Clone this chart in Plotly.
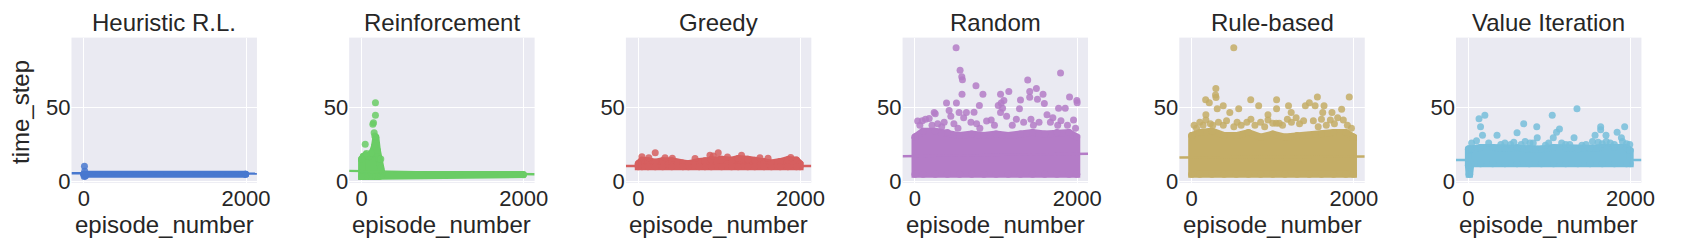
import plotly.graph_objects as go

# ---------------- data ----------------
titles = ["Heuristic R.L.", "Reinforcement", "Greedy", "Random", "Rule-based", "Value Iteration"]
colors = ["#4878CF", "#6ACC65", "#D65F5F", "#B47CC7", "#C4AD66", "#77BEDB"]
x_label = "episode_number"
y_label = "time_step"
x_ticks = [0, 2000]
y_ticks = [0, 50]

# dense band of overlapping points: episode positions, upper and lower envelope
hrl_band_x = [0, 1995]
hrl_band_top = [5, 5]
hrl_band_bottom = [5, 5]
hrl_pts_x = [7, 4, 10, 14, 18]
hrl_pts_y = [10.3, 3.5, 7, 4, 3.8]

rl_band_x = [0, 20, 50, 90, 130, 160, 176, 195, 215, 235, 255, 1995]
rl_band_top = [15, 17, 18, 17, 19, 24, 30, 21, 15, 9, 4.8, 4.8]
rl_band_bottom = [3.5, 3.5, 3.5, 3.5, 3.5, 3.5, 3.5, 3.5, 3.5, 4.0, 4.6, 4.6]
rl_pts_x = [171, 171, 147, 139, 155, 163, 45, 237, 120, 60]
rl_pts_y = [53.2, 44.7, 39.7, 38.7, 32.9, 30.8, 25.2, 15.2, 19.5, 19]

gr_band_x = [0, 45, 120, 209, 300, 413, 550, 618, 750, 822, 900, 1027, 1150, 1232,
             1350, 1436, 1550, 1641, 1750, 1845, 1950, 1995]
gr_band_top = [12, 14.4, 14, 13, 14, 14, 12.5, 12, 13.5, 14, 15, 15, 14.4, 15.5,
               15, 14.4, 13.5, 12.5, 13.5, 14.8, 14.5, 12]
gr_band_bottom = [10] * 22
gr_pts_x = [209, 986, 45, 884, 925, 1273, 130, 420, 1500, 1880, 700, 1100, 1600, 330]
gr_pts_y = [19.4, 19.4, 16.7, 17.7, 17.3, 17.7, 16, 15.8, 16, 16.2, 15.5, 16.5, 15.8, 16]

rn_band_x = [0, 100, 250, 400, 550, 700, 850, 1000, 1150, 1300, 1450, 1600, 1750, 1900, 1995]
rn_band_top = [30, 34, 34, 33, 31, 32, 31, 32, 31, 32, 33, 32, 33, 33, 30]
rn_band_bottom = [5] * 15
rn_pts_x = [507, 556, 577, 585, 752, 580, 838, 389, 511, 794, 1055, 1157, 1063, 1027,
            1080, 1055, 1390, 1415, 1497, 1415, 1579, 1510, 1595, 1301, 1288, 1795,
            1906, 1996, 2000, 1771, 1853, 728, 634, 544, 442, 237, 175, 421, 250, 1096,
            33, 60, 90, 130, 210, 280, 330, 360, 480, 530, 600, 690, 760, 800, 883,
            940, 980, 1130, 1200, 1250, 1340, 1430, 1460, 1530, 1628, 1670, 1700,
            1760, 1800, 1880, 1955, 1980]
rn_pts_y = [90.2, 75, 70.7, 68.6, 64.5, 58.8, 58.8, 53, 53, 51.3, 58.8, 60.7, 53, 51.3,
            49.4, 46.6, 68.4, 60.7, 62.8, 56.8, 58.8, 55.5, 52.6, 54.9, 49.1, 73.1,
            57, 54.7, 53.2, 49.4, 49.4, 46.8, 46.6, 46.6, 44, 46.6, 42.5, 47.9, 45.7, 54.7,
            40.8, 38, 41, 42, 38, 39, 37, 40, 39, 36, 43, 40, 39, 36, 40.8,
            41.5, 38, 44, 38, 42, 40, 42, 38, 40, 45, 40, 43,
            38, 41, 38, 41.5, 36]

rb_band_x = [0, 100, 250, 400, 550, 700, 850, 1000, 1150, 1300, 1450, 1600, 1750, 1900, 1995]
rb_band_top = [31, 33, 34, 31, 31, 33, 30, 32, 30, 31, 31, 32, 33, 33, 30]
rb_band_bottom = [5] * 15
rb_pts_x = [519, 298, 294, 300, 172, 217, 389, 315, 580, 470, 728, 826, 1047, 1047,
            1194, 1227, 1402, 1451, 1550, 1522, 1632, 1616, 1730, 1849, 1943, 175,
            941, 1288, 1710,
            30, 60, 100, 140, 175, 230, 260, 330, 390, 430, 520, 560, 610, 680, 730,
            780, 850, 900, 941, 1000, 1043, 1080, 1120, 1180, 1230, 1330, 1380, 1500,
            1560, 1600, 1660, 1760, 1800, 1870, 1920, 1970]
rb_pts_y = [90.2, 62.8, 58.3, 56.6, 55.1, 53.2, 51.1, 49.1, 49.1, 46.6, 55.1, 51.1, 55.1, 49.1,
            51.1, 46.6, 51.1, 53.2, 57, 51.1, 51.1, 46.6, 46.6, 48.7, 57, 45,
            45, 43, 41.5,
            38, 36, 40, 38, 41.5, 39, 38, 40, 38, 41, 37, 40, 38, 40, 42,
            38, 40, 37, 41.5, 39.3, 39.3, 39.3, 38, 42, 40, 39, 41, 41,
            37, 42, 38, 39, 43, 41.5, 38, 36]

vi_band_x = [0, 8, 16, 30, 150, 300, 450, 600, 750, 900, 1050, 1200, 1350, 1500, 1650,
             1800, 1950, 1995]
vi_band_top = [22, 21, 22, 22, 23, 23, 22.5, 23, 22.5, 22, 23, 22.5, 22, 22.5, 23, 23, 23, 21]
vi_band_bottom = [11, 5, 5, 12, 12, 12, 12, 12, 12, 12, 12, 12, 12, 12, 12, 12, 12, 12]
vi_pts_x = [1339, 131, 203, 1034, 150, 682, 843, 1631, 1631, 1927, 1123, 1087, 600, 174,
            353, 1047, 849, 1303, 1562, 1697, 1834, 1887,
            40, 100, 250, 400, 450, 520, 560, 650, 700, 760, 800, 950, 990, 1150, 1200,
            1250, 1400, 1450, 1530, 1600, 1650, 1700, 1750, 1800, 1900, 1950, 1990]
vi_pts_y = [49.1, 42.3, 44.7, 44.7, 37, 38.9, 37, 37, 35, 37, 35.5, 33.3, 32.9, 31.2,
            31.2, 29.5, 29.5, 29.5, 31.2, 31.2, 33.3, 29.5,
            26, 27.5, 26, 25, 26, 25, 26.5, 25, 27, 26, 26, 24.5, 26, 26, 25,
            25, 24.5, 25, 27, 26.5, 25.5, 27, 26, 25, 27, 25.5, 25]

# fitted regression line value at episode 0 and at episode 2000
fit_at_0 = [5.6, 7.05, 10.5, 17.2, 16.25, 14.6]
fit_at_2000 = [5.4, 5.04, 10.5, 18.7, 16.9, 14.6]

bands = [
    (hrl_band_x, hrl_band_top, hrl_band_bottom, hrl_pts_x, hrl_pts_y),
    (rl_band_x, rl_band_top, rl_band_bottom, rl_pts_x, rl_pts_y),
    (gr_band_x, gr_band_top, gr_band_bottom, gr_pts_x, gr_pts_y),
    (rn_band_x, rn_band_top, rn_band_bottom, rn_pts_x, rn_pts_y),
    (rb_band_x, rb_band_top, rb_band_bottom, rb_pts_x, rb_pts_y),
    (vi_band_x, vi_band_top, vi_band_bottom, vi_pts_x, vi_pts_y),
]

# ---------------- layout geometry ----------------
W, H = 1701, 245
FONT = "Liberation Sans, Arial, sans-serif"
TXT = "#262626"
BG = "#EAEAF2"
panel_left = [64, 344, 623, 902, 1181, 1460]
panel_w = 187
plot_top, plot_bot = 31, 183
x_range = [-153, 2134]
y_range = [-0.8, 97]
MS = 7

fig = go.Figure()
annotations = []
layout = {}
ydom = [1 - plot_bot / H, 1 - plot_top / H]

for i in range(6):
    k = "" if i == 0 else str(i + 1)
    bx, bt, bb, px, py = bands[i]
    c = colors[i]
    xa, ya = "x" + k, "y" + k
    # dense band
    poly_x = list(bx) + list(bx)[::-1] + [bx[0]]
    poly_y = list(bt) + list(bb)[::-1] + [bt[0]]
    fig.add_trace(go.Scatter(x=poly_x, y=poly_y, mode="lines+markers", fill="toself",
                             fillcolor=c, line=dict(color=c, width=MS),
                             marker=dict(size=MS, color=c, line=dict(width=0)),
                             xaxis=xa, yaxis=ya, hoverinfo="skip"))
    # individual points
    fig.add_trace(go.Scatter(x=px, y=py, mode="markers",
                             marker=dict(size=MS, color=c, opacity=0.85, line=dict(width=0)),
                             xaxis=xa, yaxis=ya))
    # regression line across the full axis range
    slope = (fit_at_2000[i] - fit_at_0[i]) / 2000.0
    lx = x_range
    ly = [fit_at_0[i] + slope * v for v in lx]
    fig.add_trace(go.Scatter(x=lx, y=ly, mode="lines", line=dict(color=c, width=2.4),
                             xaxis=xa, yaxis=ya))

    l = panel_left[i]
    xdom = [l / W, (l + panel_w) / W]
    layout["xaxis" + k] = dict(domain=xdom, range=x_range, anchor=ya, tickvals=x_ticks,
                               ticktext=[str(v) for v in x_ticks],
                               showgrid=True, gridcolor="white", gridwidth=1.3,
                               zeroline=False, showline=False, ticks="",
                               tickfont=dict(family=FONT, size=22, color=TXT))
    layout["yaxis" + k] = dict(domain=ydom, range=y_range, anchor=xa, tickvals=y_ticks,
                               ticktext=[str(v) for v in y_ticks],
                               showgrid=True, gridcolor="white", gridwidth=1.3,
                               zeroline=False, showline=False, ticks="",
                               tickfont=dict(family=FONT, size=22, color=TXT))
    cx = (l + panel_w / 2) / W
    annotations.append(dict(text=titles[i], x=cx, y=ydom[1], xref="paper", yref="paper",
                            xanchor="center", yanchor="bottom", showarrow=False,
                            font=dict(family=FONT, size=24, color=TXT)))
    annotations.append(dict(text=x_label, x=cx, y=1 - 227 / H, xref="paper", yref="paper",
                            xanchor="center", yanchor="middle", showarrow=False,
                            font=dict(family=FONT, size=24, color=TXT)))

annotations.append(dict(text=y_label, x=12 / W, y=1 - 109 / H, xref="paper", yref="paper",
                        xanchor="center", yanchor="middle", textangle=-90, showarrow=False,
                        font=dict(family=FONT, size=24, color=TXT)))

fig.update_layout(width=W, height=H, margin=dict(l=0, r=0, t=0, b=0),
                  paper_bgcolor="white", plot_bgcolor=BG, showlegend=False,
                  annotations=annotations, **layout)
fig.write_html("out.html")
